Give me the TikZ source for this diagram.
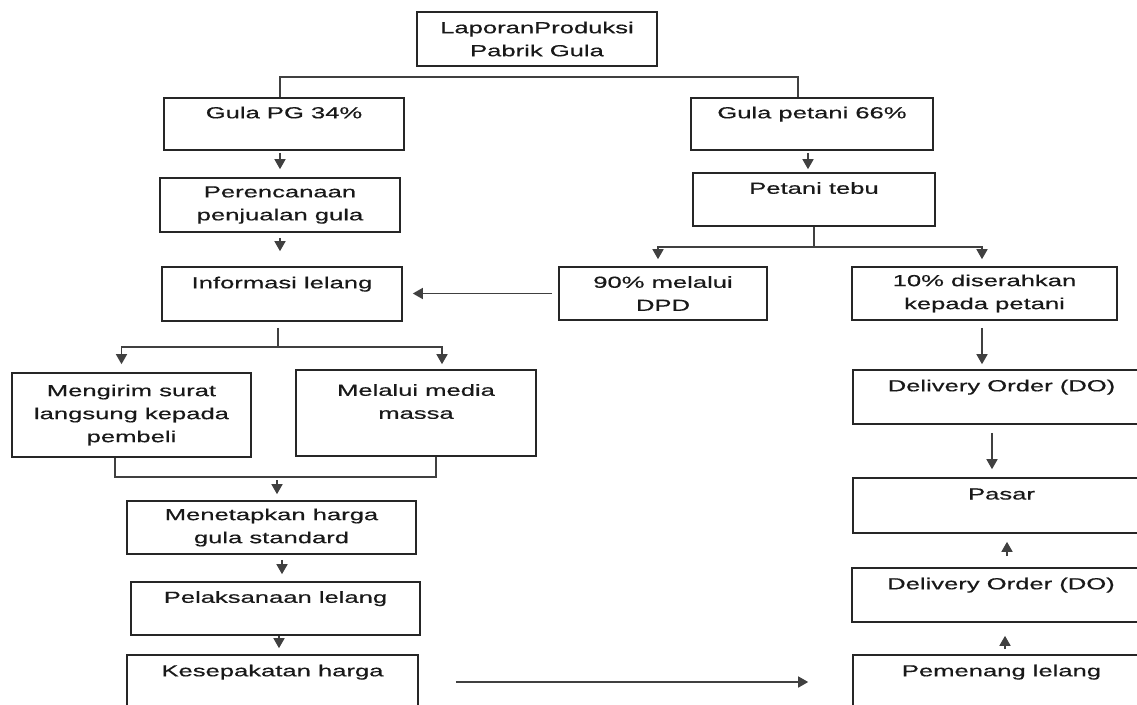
\documentclass[tikz,border=0pt]{standalone}
\usepackage{fontspec}
\setmainfont{Liberation Sans}[FakeStretch=1.6,FakeBold=0.5]
\usetikzlibrary{arrows.meta}

\begin{document}
\begin{tikzpicture}[x=1pt,y=-1pt,
	kotak/.style={draw=black!85,line width=1.6pt,align=center,inner sep=0pt,text=black!90,font=\fontsize{16}{23}\selectfont},
	garis/.style={draw=black!75,line width=1.5pt},
	panah/.style={garis,-{Triangle[length=10pt,width=11pt]}}]
	%\draw[help lines,step=50] (0,0) grid (1137,704);
	\useasboundingbox (0,0) rectangle (1137,704);
	\clip (0,0) rectangle (1137,704);

	%KOTAK KIRI
	\node[kotak,minimum width=240,minimum height=54] (lap) at (537,39) {LaporanProduksi\\Pabrik Gula};
	\node[kotak,minimum width=240,minimum height=52] (gpg) at (284,124) {Gula PG 34\%\\~};
	\node[kotak,minimum width=240,minimum height=54] (renc) at (280,205) {Perencanaan\\penjualan gula};
	\node[kotak,minimum width=240,minimum height=54] (info) at (282,294) {Informasi lelang\\~};
	\node[kotak,minimum width=239,minimum height=84] (surat) at (131.5,415) {Mengirim surat\\langsung kepada\\pembeli};
	\node[kotak,minimum width=240,minimum height=86] (media) at (416,413) {Melalui media\\massa\\~};
	\node[kotak,minimum width=289,minimum height=53] (harga) at (271.5,527.5) {Menetapkan harga\\gula standard};
	\node[kotak,minimum width=289,minimum height=53] (laks) at (275.5,608.5) {Pelaksanaan lelang\\~};
	\node[kotak,minimum width=291,minimum height=54] (sepakat) at (272.5,682) {Kesepakatan harga\\~};

	%KOTAK KANAN
	\node[kotak,minimum width=242,minimum height=52] (gpt) at (812,124) {Gula petani 66\%\\~};
	\node[kotak,minimum width=242,minimum height=53] (tebu) at (814,199.5) {Petani tebu\\~};
	\node[kotak,minimum width=208,minimum height=53] (dpd) at (663,293.5) {90\% melalui\\DPD};
	\node[kotak,minimum width=265,minimum height=53] (sepuluh) at (984.5,293.5) {10\% diserahkan\\kepada petani};
	\node[kotak,minimum width=297,minimum height=54] (do1) at (1001.5,397) {Delivery Order (DO)\\~};
	\node[kotak,minimum width=297,minimum height=55] (pasar) at (1001.5,505.5) {Pasar\\~};
	\node[kotak,minimum width=298,minimum height=54] (do2) at (1001,595) {Delivery Order (DO)\\~};
	\node[kotak,minimum width=297,minimum height=54] (menang) at (1001.5,682) {Pemenang lelang\\~};

	%CABANG ATAS
	\coordinate (bagi) at (537,77);
	\draw[garis] ([xshift=-4]gpg.north) |- (bagi) -| ([xshift=-14]gpt.north);
	\draw[panah,shorten <=2,shorten >=8] (gpg.south -| renc.north) -- (renc.north);
	\draw[panah,shorten <=5,shorten >=15] (renc.south) -- (renc.south |- info.north);
	\draw[panah,shorten <=2,shorten >=3] ([xshift=-4]gpt.south) -- ([xshift=-4]gpt.south |- tebu.north);

	%PETANI TEBU
	\coordinate (cabang) at (813,247);
	\draw[garis] (tebu.south) -- (tebu.south |- cabang);
	\draw[panah,shorten >=7] (tebu.south |- cabang) -| ([xshift=-5]dpd.north);
	\draw[panah,shorten >=7] (tebu.south |- cabang) -| ([xshift=-2.5]sepuluh.north);
	\draw[panah,shorten <=6,shorten >=10] (dpd.west) -- (dpd.west -| info.east);

	%INFORMASI LELANG
	\coordinate (cabang2) at (278,347);
	\draw[garis,shorten <=6] ([xshift=-4]info.south) -- ([xshift=-4]info.south |- cabang2);
	\draw[panah,shorten >=8] (cabang2) -| ([xshift=-10]surat.north);
	\draw[panah,shorten >=5] (cabang2) -| ([xshift=26]media.north);
	\coordinate (gabung) at (277,477);
	\draw[garis] ([xshift=-16.5]surat.south) |- ([xshift=20]media.south |- gabung) -- ([xshift=20]media.south);
	\draw[panah,shorten <=3,shorten >=6] (gabung) -- (gabung |- harga.north);
	\draw[panah,shorten <=5,shorten >=7] ([xshift=10.5]harga.south) -- ([xshift=10.5]harga.south |- laks.north);
	\draw[panah,shorten >=6] ([xshift=3.5]laks.south) -- ([xshift=3.5]laks.south |- sepakat.north);
	\draw[panah,shorten <=37,shorten >=44] (sepakat.east) -- (sepakat.east -| menang.west);

	%KOLOM KANAN
	\draw[panah,shorten <=7,shorten >=5] ([xshift=-2.5]sepuluh.south) -- ([xshift=-2.5]sepuluh.south |- do1.north);
	\draw[panah,shorten <=8,shorten >=8] ([xshift=-9.5]do1.south) -- ([xshift=-9.5]do1.south |- pasar.north);
	\draw[panah,shorten <=11,shorten >=8] ([xshift=6]do2.north) -- ([xshift=6]do2.north |- pasar.south);
	\draw[panah,shorten <=5,shorten >=13] ([xshift=3.5]menang.north) -- ([xshift=3.5]menang.north |- do2.south);
\end{tikzpicture}
\end{document}
